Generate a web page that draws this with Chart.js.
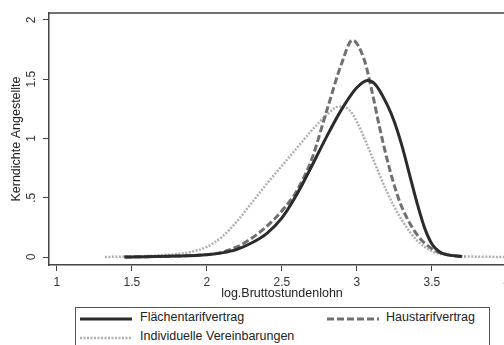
<!DOCTYPE html>
<html>
<head>
<meta charset="utf-8">
<script src="https://cdn.jsdelivr.net/npm/chart.js@4"></script>
<style>
  html, body { margin: 0; padding: 0; background: #fff; width: 504px; height: 345px; overflow: hidden; }
  #wrap { position: relative; width: 530px; height: 345px; }
  #legend { position: absolute; left: 75px; top: 307px; width: 413px; height: 50px; border: 1px solid #555; background: #fff;
            font-family: "Liberation Sans", Arial, sans-serif; font-size: 12.5px; color: #222; }
  #legend .item { position: absolute; white-space: nowrap; }
  #legend svg { position: absolute; }
</style>
</head>
<body>
<div id="wrap">
  <canvas id="densityChart" width="530" height="345"></canvas>
  <div id="legend">
    <svg style="left:4px;top:8px" width="52" height="6"><line x1="0" y1="3" x2="52" y2="3" stroke="#2b2b2b" stroke-width="3"/></svg>
    <div class="item" style="left:64px;top:2px">Flächentarifvertrag</div>
    <svg style="left:251px;top:8px" width="52" height="6"><line x1="0" y1="3" x2="52" y2="3" stroke="#707070" stroke-width="3" stroke-dasharray="7,3"/></svg>
    <div class="item" style="left:310px;top:2px">Haustarifvertrag</div>
    <svg style="left:4px;top:27px" width="52" height="6"><line x1="0" y1="3" x2="52" y2="3" stroke="#b0b0b0" stroke-width="2.5" stroke-dasharray="2,1.5"/></svg>
    <div class="item" style="left:64px;top:21px">Individuelle Vereinbarungen</div>
  </div>
</div>
<script>
// x tick values and y tick values/labels
const xTicks = [1, 1.5, 2, 2.5, 3, 3.5, 4];
const yTicks = [0, 0.5, 1, 1.5, 2];
const yTickLabels = ['0', '.5', '1', '1.5', '2'];

// Flächentarifvertrag (solid black)
const flaecheX = [1.45, 1.6, 1.8, 2.0, 2.1, 2.2, 2.3, 2.4, 2.5, 2.6, 2.7, 2.8, 2.9, 3.0, 3.07, 3.12, 3.2, 3.25, 3.3, 3.35, 3.4, 3.45, 3.5, 3.55, 3.6, 3.7];
const flaecheY = [0, 0.003, 0.008, 0.02, 0.035, 0.065, 0.12, 0.2, 0.33, 0.53, 0.77, 1.02, 1.25, 1.43, 1.49, 1.46, 1.29, 1.14, 0.94, 0.7, 0.46, 0.25, 0.11, 0.045, 0.02, 0.005];

// Haustarifvertrag (dashed grey)
const hausX = [1.45, 1.6, 1.8, 2.0, 2.1, 2.2, 2.3, 2.4, 2.5, 2.6, 2.7, 2.8, 2.9, 2.97, 3.05, 3.1, 3.15, 3.2, 3.25, 3.3, 3.4, 3.5, 3.6, 3.72];
const hausY = [0, 0.003, 0.008, 0.02, 0.04, 0.085, 0.16, 0.26, 0.39, 0.56, 0.83, 1.24, 1.64, 1.83, 1.66, 1.4, 1.1, 0.83, 0.6, 0.42, 0.19, 0.07, 0.02, 0.003];

// Individuelle Vereinbarungen (dotted light grey)
const indivX = [1.32, 1.5, 1.7, 1.8, 1.9, 2.0, 2.1, 2.2, 2.3, 2.4, 2.5, 2.6, 2.7, 2.8, 2.88, 2.95, 3.0, 3.1, 3.2, 3.3, 3.4, 3.5, 3.6, 3.7, 3.85, 4.0];
const indivY = [0, 0.005, 0.015, 0.025, 0.045, 0.085, 0.17, 0.3, 0.46, 0.62, 0.77, 0.92, 1.07, 1.2, 1.27, 1.24, 1.14, 0.85, 0.55, 0.31, 0.14, 0.05, 0.015, 0.006, 0.002, 0];

const toPoints = (xs, ys) => xs.map((x, i) => ({ x: x, y: ys[i] }));
const FONT = '"Liberation Sans", Arial, sans-serif';

const frame = {
  id: 'frame',
  afterDraw(chart) {
    const { ctx, chartArea } = chart;
    const yScale = chart.scales.y;
    ctx.save();
    ctx.strokeStyle = '#444';
    ctx.lineWidth = 1.5;
    ctx.beginPath();
    ctx.moveTo(chartArea.left, chartArea.top);
    ctx.lineTo(chartArea.right + 20, chartArea.top);
    ctx.stroke();
    ctx.fillStyle = '#333';
    ctx.font = '12px ' + FONT;
    ctx.textAlign = 'center';
    ctx.textBaseline = 'middle';
    yTicks.forEach((v, i) => {
      ctx.save();
      ctx.translate(32, yScale.getPixelForValue(v));
      ctx.rotate(-Math.PI / 2);
      ctx.fillText(yTickLabels[i], 0, 0);
      ctx.restore();
    });
    ctx.restore();
  }
};

new Chart(document.getElementById('densityChart').getContext('2d'), {
  type: 'line',
  data: {
    datasets: [
      { label: 'Flächentarifvertrag', data: toPoints(flaecheX, flaecheY), borderColor: '#2b2b2b', borderWidth: 3 },
      { label: 'Haustarifvertrag', data: toPoints(hausX, hausY), borderColor: '#707070', borderWidth: 3, borderDash: [7, 3] },
      { label: 'Individuelle Vereinbarungen', data: toPoints(indivX, indivY), borderColor: '#b0b0b0', borderWidth: 2.5, borderDash: [2, 1.5] }
    ]
  },
  options: {
    responsive: false,
    animation: false,
    layout: { padding: { top: 13, right: 15, left: 0, bottom: 0 } },
    elements: { point: { radius: 0 }, line: { cubicInterpolationMode: 'monotone', fill: false } },
    plugins: { legend: { display: false }, tooltip: { enabled: false } },
    scales: {
      x: {
        type: 'linear',
        min: 0.947,
        max: 4.054,
        afterBuildTicks: s => { s.ticks = xTicks.map(v => ({ value: v })); },
        afterFit: s => { s.height = 80; },
        grid: { display: true, drawOnChartArea: false, drawTicks: true, tickLength: 6, tickColor: '#444', tickWidth: 1 },
        border: { display: true, color: '#444', width: 1.5 },
        ticks: { color: '#333', font: { family: FONT, size: 12 }, padding: 4, maxRotation: 0, autoSkip: false,
                 callback: v => String(v) },
        title: { display: true, text: 'log.Bruttostundenlohn', color: '#222', font: { family: FONT, size: 12.5 },
                 padding: { top: 0, bottom: 44 } }
      },
      y: {
        type: 'linear',
        min: -0.0675,
        max: 2.059,
        afterBuildTicks: s => { s.ticks = yTicks.map(v => ({ value: v })); },
        afterFit: s => { s.width = 49; },
        grid: { display: true, drawOnChartArea: false, drawTicks: true, tickLength: 6, tickColor: '#444', tickWidth: 1 },
        border: { display: true, color: '#444', width: 1.5 },
        ticks: { display: false },
        title: { display: true, text: 'Kerndichte Angestellte', color: '#222', font: { family: FONT, size: 12.5 },
                 padding: { top: 9.5, bottom: 0 } }
      }
    }
  },
  plugins: [frame]
});
</script>
</body>
</html>
